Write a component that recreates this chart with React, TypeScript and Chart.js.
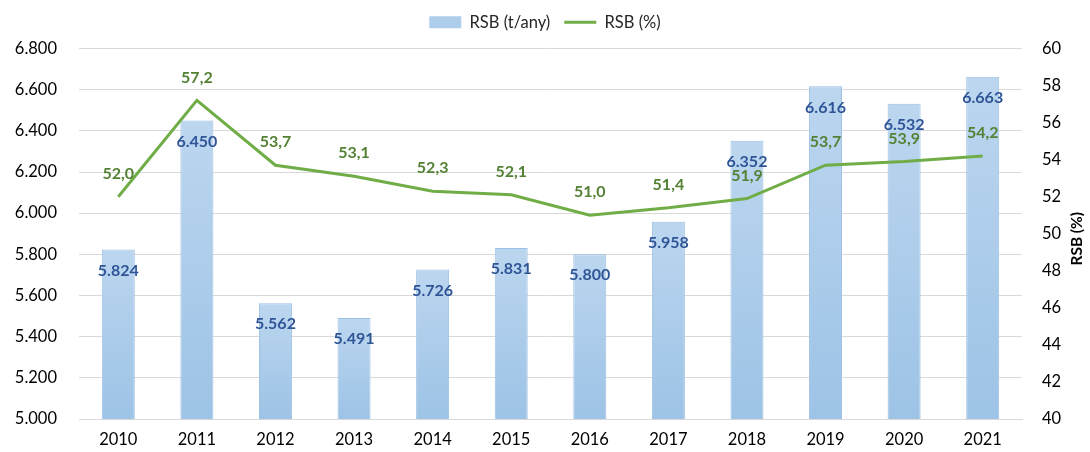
import React, { useEffect, useRef } from "react";
import { Chart, registerables } from "chart.js";

Chart.register(...registerables);

const years = ["2010", "2011", "2012", "2013", "2014", "2015", "2016", "2017", "2018", "2019", "2020", "2021"];
const rsbTons = [5824, 6450, 5562, 5491, 5726, 5831, 5800, 5958, 6352, 6616, 6532, 6663];
const rsbPct = [52.0, 57.2, 53.7, 53.1, 52.3, 52.1, 51.0, 51.4, 51.9, 53.7, 53.9, 54.2];
const leftTicks = [5000, 5200, 5400, 5600, 5800, 6000, 6200, 6400, 6600, 6800];
const rightTicks = [40, 42, 44, 46, 48, 50, 52, 54, 56, 58, 60];

const FONT = "Lato, 'Open Sans', sans-serif";

const fmtThousands = (v: number) => {
  const t = Math.floor(v / 1000);
  const r = String(Math.round(v % 1000)).padStart(3, "0");
  return `${t}.${r}`;
};
const fmtPct = (v: number) => v.toFixed(1).replace(".", ",");

export default function App() {
  const canvasRef = useRef<HTMLCanvasElement | null>(null);

  useEffect(() => {
    document.body.style.margin = "0";
    const canvas = canvasRef.current;
    if (!canvas) return;

    const legendGap = {
      id: "legendGap",
      beforeInit(chart: any) {
        const legend = chart.legend;
        if (!legend) return;
        const orig = legend.fit;
        legend.fit = function () {
          orig.call(this);
          this.height += 8;
        };
      },
    };

    const labelPlugin = {
      id: "valueLabels",
      afterDatasetsDraw(chart: any) {
        const ctx = chart.ctx;
        ctx.save();
        ctx.textAlign = "center";
        ctx.textBaseline = "middle";
        ctx.font = `bold 16px ${FONT}`;
        const barMeta = chart.getDatasetMeta(0);
        barMeta.data.forEach((el: any, i: number) => {
          ctx.fillStyle = "#2f5597";
          ctx.fillText(fmtThousands(rsbTons[i]), el.x, el.y + 21);
        });
        const lineMeta = chart.getDatasetMeta(1);
        lineMeta.data.forEach((el: any, i: number) => {
          ctx.fillStyle = "#548235";
          ctx.fillText(fmtPct(rsbPct[i]), el.x, el.y - 23);
        });
        // right axis title, reading bottom to top
        const ca = chart.chartArea;
        ctx.translate(1077, (ca.top + ca.bottom) / 2 + 5);
        ctx.rotate(-Math.PI / 2);
        ctx.fillStyle = "#000000";
        ctx.font = `bold 15.5px ${FONT}`;
        ctx.fillText("RSB (%)", 0, 0);
        ctx.restore();
      },
    };

    const chart = new Chart(canvas, {
      type: "bar",
      data: {
        labels: years,
        datasets: [
          {
            type: "bar",
            label: "RSB (t/any)",
            data: rsbTons,
            yAxisID: "y",
            order: 2,
            barPercentage: 0.42,
            categoryPercentage: 1,
            borderWidth: 1,
            borderColor: "#9cc0e4",
            backgroundColor: (c: any) => {
              const chartObj = c.chart;
              const ys = chartObj.scales?.y;
              if (!chartObj.chartArea || !ys || c.parsed == null) return "#a9cbe9";
              const top = ys.getPixelForValue(c.parsed.y);
              const bottom = ys.getPixelForValue(ys.min);
              if (!isFinite(top) || !isFinite(bottom) || top === bottom) return "#a9cbe9";
              const g = chartObj.ctx.createLinearGradient(0, top, 0, bottom);
              g.addColorStop(0, "#bcd6ef");
              g.addColorStop(1, "#9dc3e6");
              return g;
            },
          } as any,
          {
            type: "line",
            label: "RSB (%)",
            data: rsbPct,
            yAxisID: "y1",
            order: 1,
            borderColor: "#70ad47",
            backgroundColor: "#70ad47",
            borderWidth: 3,
            pointRadius: 0,
            pointHoverRadius: 0,
            tension: 0,
          } as any,
        ],
      },
      options: {
        animation: false,
        responsive: false,
        maintainAspectRatio: false,
        layout: { padding: { top: 0, left: 0, right: 0, bottom: 0 } },
        plugins: {
          tooltip: { enabled: false },
          legend: {
            display: true,
            position: "top",
            labels: {
              usePointStyle: true,
              pointStyleWidth: 32,
              boxHeight: 12,
              padding: 14,
              color: "#262626",
              font: { family: FONT, size: 16.5 },
              generateLabels: () => [
                {
                  text: "RSB (t/any)",
                  fillStyle: "#aecdea",
                  strokeStyle: "#aecdea",
                  lineWidth: 0,
                  pointStyle: "rect",
                  datasetIndex: 0,
                  fontColor: "#262626",
                } as any,
                {
                  text: "RSB (%)",
                  fillStyle: "#70ad47",
                  strokeStyle: "#70ad47",
                  lineWidth: 3,
                  pointStyle: "line",
                  datasetIndex: 1,
                  fontColor: "#262626",
                } as any,
              ],
            },
          },
        },
        scales: {
          x: {
            grid: { display: false, drawTicks: false },
            border: { display: true, color: "#d9d9d9" },
            ticks: {
              color: "#000000",
              font: { family: FONT, size: 16.5 },
              padding: 11,
            },
            afterFit: (s: any) => {
              s.height = 33;
            },
          },
          y: {
            position: "left",
            min: leftTicks[0],
            max: leftTicks[leftTicks.length - 1],
            afterBuildTicks: (s: any) => {
              s.ticks = leftTicks.map((v) => ({ value: v }));
            },
            grid: { color: "#d9d9d9", drawTicks: false },
            border: { display: false },
            ticks: {
              color: "#000000",
              font: { family: FONT, size: 16.5 },
              padding: 22,
              callback: (v: any) => fmtThousands(Number(v)),
            },
            afterFit: (s: any) => {
              s.width = 79;
            },
          },
          y1: {
            position: "right",
            min: rightTicks[0],
            max: rightTicks[rightTicks.length - 1],
            afterBuildTicks: (s: any) => {
              s.ticks = rightTicks.map((v) => ({ value: v }));
            },
            grid: { display: false, drawTicks: false },
            border: { display: false },
            ticks: {
              color: "#000000",
              font: { family: FONT, size: 16.5 },
              padding: 20,
              callback: (v: any) => String(v),
            },
            afterFit: (s: any) => {
              s.width = 68;
            },
          },
        },
      } as any,
      plugins: [legendGap, labelPlugin],
    });

    return () => chart.destroy();
  }, []);

  return (
    <div style={{ width: 1090, height: 452 }}>
      <canvas ref={canvasRef} width={1090} height={452} style={{ display: "block" }} />
    </div>
  );
}
